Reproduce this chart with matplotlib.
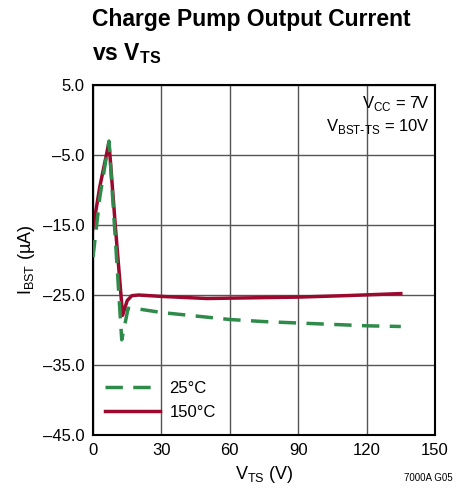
import matplotlib
matplotlib.use("Agg")
import matplotlib.pyplot as plt
from matplotlib import font_manager

# Data
vts_25 = [0, 3, 7, 10, 12.6, 15.4, 20, 30, 45, 60, 75, 90, 105, 120, 135]
ibst_25 = [-19.6, -11, -3.0, -18, -31.4, -26.9, -27.0, -27.5, -28.0, -28.5, -28.8, -29.0, -29.2, -29.4, -29.5]
vts_150 = [0, 3, 7, 10, 13, 15, 17, 20, 30, 50, 70, 90, 110, 135]
ibst_150 = [-15.5, -9.5, -3.2, -16, -27.9, -25.8, -25.1, -25.0, -25.2, -25.5, -25.4, -25.3, -25.1, -24.8]

xticks = [0, 30, 60, 90, 120, 150]
yticks = [5.0, -5.0, -15.0, -25.0, -35.0, -45.0]

fams = [f.name for f in font_manager.fontManager.ttflist]
narrow = 'Liberation Sans Narrow' if 'Liberation Sans Narrow' in fams else 'Liberation Sans'
plt.rcParams['font.family'] = [narrow, 'DejaVu Sans']

fig = plt.figure(figsize=(4.57, 5.04), dpi=100)
ax = fig.add_axes([93/457, 1-435/504, (435-93)/457, (435-85)/504])

green = '#2e8b4a'
red = '#9b0a2e'
ax.plot(vts_25, ibst_25, color=green, lw=2.5, dashes=(5, 3), label='25°C', zorder=3)
ax.plot(vts_150, ibst_150, color=red, lw=2.5, label='150°C', zorder=2)

ax.set_xlim(0, 150)
ax.set_ylim(-45, 5)
ax.set_xticks(xticks)
ax.set_yticks(yticks)
ax.set_yticklabels([f"{v:.1f}".replace('-', '\u2013') for v in yticks])
ax.tick_params(length=0, labelsize=12, pad=6)
ax.grid(True, color='#555555', lw=1.0)
for s in ax.spines.values():
    s.set_linewidth(1.5)
    s.set_color('black')

ax.set_xlabel(r'V$_{\mathregular{TS}}$ (V)', fontsize=13, labelpad=4)
ax.set_ylabel(r'I$_{\mathregular{BST}}$ (µA)', fontsize=13, labelpad=4)

ax.text(0.985, 0.975, r'V$_{\mathregular{CC}}$ = 7V', transform=ax.transAxes, ha='right', va='top', fontsize=12)
ax.text(0.985, 0.91, r'V$_{\mathregular{BST\text{-}TS}}$ = 10V', transform=ax.transAxes, ha='right', va='top', fontsize=12)

leg = ax.legend(loc='lower left', bbox_to_anchor=(-0.01, 0.0), frameon=False, fontsize=12,
                handlelength=3.3, handletextpad=0.6, labelspacing=0.55)

fig.text(92/457, 1-8/504, 'Charge Pump Output Current', fontsize=16.5, fontweight='bold', va='top', ha='left')
fig.text(92/457, 1-41/504, r'vs V$_{\mathregular{TS}}$', fontsize=16.5, fontweight='bold', va='top', ha='left')
fig.text(453/457, 1-478/504, '7000A G05', fontsize=7, ha='right', va='center')

fig.savefig('out.png', dpi=100)
